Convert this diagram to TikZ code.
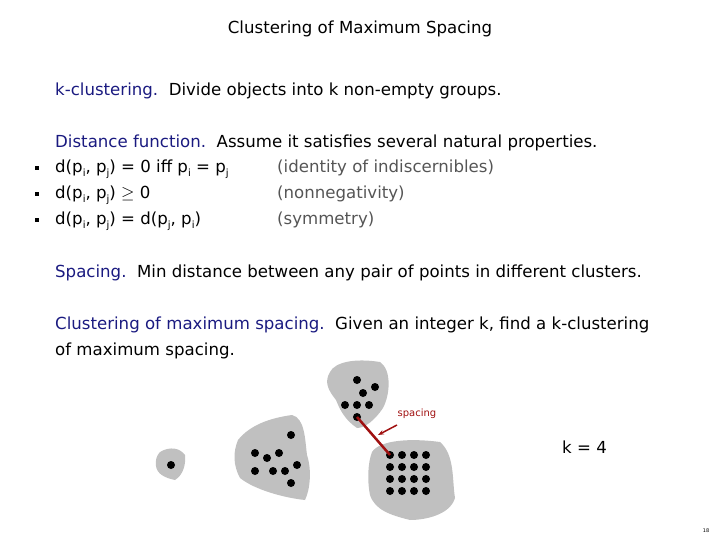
\documentclass[tikz,border=0pt]{standalone}
\usepackage{fontspec}
\usetikzlibrary{arrows.meta}
\setmainfont{DejaVu Sans}
\definecolor{navy}{HTML}{1A1A80}
\definecolor{grayt}{HTML}{555555}
\definecolor{blob}{HTML}{C0C0C0}
\definecolor{redl}{HTML}{A01010}
\newcommand{\sbx}[1]{\raisebox{-0.35ex}{\fontsize{10}{10}\selectfont #1}}
\begin{document}
\begin{tikzpicture}[x=1pt,y=-1pt,
  txt/.style={anchor=base west,inner sep=0pt,font=\fontsize{16.6}{20}\selectfont},
  bul/.style={fill=black,minimum size=3.5pt,inner sep=0pt},
  dot/.style={circle,fill=black,minimum size=8pt,inner sep=0pt},
  cl/.style={fill=blob}]
\useasboundingbox (0,0) rectangle (720,540);
\node[txt,anchor=base] (title) at (360,34) {Clustering of Maximum Spacing};
\node[txt] (l1) at (55,96) {\textcolor{navy}{k-clustering.}\ \ Divide objects into k non-empty groups.};
\node[txt] (l2) at (55,148) {\textcolor{navy}{Distance function.}\ \ Assume it satisfies several natural properties.};
\node[bul] (b1) at (37,168) {};
\node[bul] (b2) at (37,194) {};
\node[bul] (b3) at (37,220) {};
\node[txt] (a1) at (55,173) {d(p\sbx{i}, p\sbx{j}) = 0 iff p\sbx{i} = p\sbx{j}};
\node[txt] (a2) at (55,199) {d(p\sbx{i}, p\sbx{j}) $\geq$ 0};
\node[txt] (a3) at (55,225) {d(p\sbx{i}, p\sbx{j}) = d(p\sbx{j}, p\sbx{i})};
\node[txt,text=grayt] (c1) at (277,173) {(identity of indiscernibles)};
\node[txt,text=grayt] (c2) at (277,199) {(nonnegativity)};
\node[txt,text=grayt] (c3) at (277,225) {(symmetry)};
\node[txt] (l3) at (55,277) {\textcolor{navy}{Spacing.}\ \ Min distance between any pair of points in different clusters.};
\node[txt] (l4) at (55,329) {\textcolor{navy}{Clustering of maximum spacing.}\ \ Given an integer k, find a k-clustering};
\node[txt] (l5) at (55,355) {of maximum spacing.};
% blobs
\fill[cl] (160,452) .. controls (170,446) and (180,448) .. (185,455) .. controls (186,465) and (183,475) .. (175,480) .. controls (165,478) and (157,474) .. (156,466) .. controls (155,460) and (157,455) .. cycle;
\fill[cl] (238,440) .. controls (250,425) and (270,418) .. (292,415) .. controls (305,418) and (305,440) .. (307,455) .. controls (312,470) and (310,490) .. (305,500) .. controls (285,498) and (255,490) .. (240,478) .. controls (233,465) and (233,452) .. cycle;
\fill[cl] (330,372) .. controls (335,362) and (355,358) .. (380,362) .. controls (392,370) and (390,395) .. (383,408) .. controls (375,420) and (365,428) .. (357,428) .. controls (345,420) and (340,410) .. (336,400) .. controls (328,390) and (324,382) .. cycle;
\fill[cl] (372,452) .. controls (380,440) and (410,438) .. (440,442) .. controls (455,455) and (452,480) .. (455,498) .. controls (450,515) and (425,520) .. (410,520) .. controls (390,515) and (375,510) .. (370,495) .. controls (367,480) and (368,462) .. cycle;
% dots
\node[dot] (d1) at (171,465) {};
\foreach \p [count=\i] in {(291,435),(255,453),(267,458),(279,453),(297,465),(255,471),(273,471),(285,471),(291,483)} \node[dot] (e\i) at \p {};
\foreach \p [count=\i] in {(357,380),(375,387),(363,393),(345,405),(357,405),(369,405),(357,417)} \node[dot] (f\i) at \p {};
\foreach \x in {0,1,2,3} \foreach \y in {0,1,2,3} \node[dot] (g\x\y) at (390+12*\x,455+12*\y) {};
\draw[redl,line width=2.5pt] (f7.center) -- (g00.center);
\node[inner sep=0pt,text=redl,font=\fontsize{10}{12}\selectfont] (sp) at (417,414) {spacing};
\coordinate (tip) at (378,435);
\draw[redl,line width=1.5pt,-{Stealth[length=6pt]}] (397,425) -- (tip);
\node[txt] (k) at (562,453) {k = 4};
\node[inner sep=0pt,font=\fontsize{5}{6}\selectfont] (pg) at (706,531) {18};
\end{tikzpicture}
\end{document}
